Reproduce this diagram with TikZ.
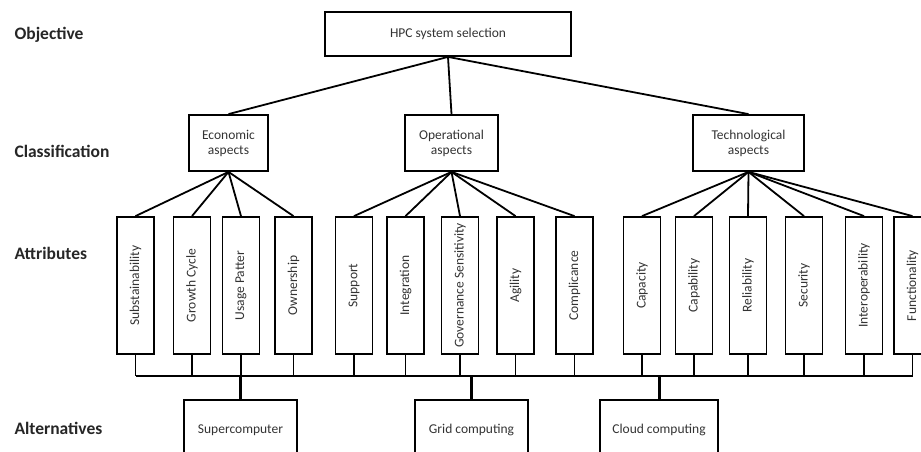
\documentclass[tikz,border=0pt]{standalone}
\usepackage{fontspec}
\setmainfont{Carlito}
\usepackage{graphicx}

\begin{document}
\begin{tikzpicture}[
    x=1pt,y=-1pt,line/.style={line width=1.8pt},
    box/.style={draw, line width=1.8pt, inner sep=0pt, align=center, text=black!80,
      font=\fontsize{13.5}{15}\selectfont},
    attr/.style={box, minimum width=37pt, minimum height=137pt},
    level/.style={anchor=west, text=black!85, font=\fontsize{17.5}{20}\selectfont\bfseries}
    ]
    \clip (0, 0) rectangle (921, 451);
    \node[level] (lobj) at (11, 35) {Objective};
    \node[level] (lcls) at (11, 151) {Classification};
    \node[level] (latt) at (11, 253) {Attributes};
    \node[level] (lalt) at (11, 428) {Alternatives};
    \node[box, minimum width=246pt, minimum height=44pt] (hpc) at (448, 34) {HPC system selection};
    \node[box, minimum width=79pt, minimum height=56pt] (econ) at (228.5, 143) {Economic\\aspects};
    \node[box, minimum width=93pt, minimum height=56pt] (oper) at (451.5, 143) {Operational\\aspects};
    \node[box, minimum width=111pt, minimum height=56pt] (tech) at (748.5, 143) {Technological\\aspects};
    \node[attr] (sust) at (135.5, 285.5) {\rotatebox{90}{Substainability}};
    \node[attr] (grow) at (192, 285.5) {\rotatebox{90}{Growth Cycle}};
    \node[attr] (usage) at (241, 285.5) {\rotatebox{90}{Usage Patter}};
    \node[attr] (own) at (293.5, 285.5) {\rotatebox{90}{Ownership}};
    \node[attr] (supp) at (354, 285.5) {\rotatebox{90}{Support}};
    \node[attr] (integ) at (405.5, 285.5) {\rotatebox{90}{Integration}};
    \node[attr] (gov) at (460, 285.5) {\rotatebox{90}{Governance Sensitivity}};
    \node[attr] (agil) at (515.5, 285.5) {\rotatebox{90}{Agility}};
    \node[attr] (compl) at (574.5, 285.5) {\rotatebox{90}{Complicance}};
    \node[attr] (capa) at (642, 285.5) {\rotatebox{90}{Capacity}};
    \node[attr] (capb) at (694, 285.5) {\rotatebox{90}{Capability}};
    \node[attr] (reli) at (748, 285.5) {\rotatebox{90}{Reliability}};
    \node[attr] (secu) at (804, 285.5) {\rotatebox{90}{Security}};
    \node[attr] (inter) at (864, 285.5) {\rotatebox{90}{Interoperability}};
    \node[attr] (func) at (912.5, 285.5) {\rotatebox{90}{Functionality}};
    \node[box, minimum width=113pt, minimum height=60pt] (supc) at (240.5, 430) {Supercomputer};
    \node[box, minimum width=113pt, minimum height=60pt] (grid) at (471.5, 430) {Grid computing};
    \node[box, minimum width=118pt, minimum height=60pt] (cloud) at (659, 430) {Cloud computing};
    \coordinate (busl) at (135.5, 376);
    \coordinate (busr) at (912.5, 376);
    % objective to classification
    \draw[line] (hpc.south) -- (econ.north);
    \draw[line] (hpc.south) -- (oper.north);
    \draw[line] (hpc.south) -- (tech.north);
    % classification to attributes
    \draw[line] (econ.south) -- (sust.north);
    \draw[line] (econ.south) -- (grow.north);
    \draw[line] (econ.south) -- (usage.north);
    \draw[line] (econ.south) -- (own.north);
    \draw[line] (oper.south) -- (supp.north);
    \draw[line] (oper.south) -- (integ.north);
    \draw[line] (oper.south) -- (gov.north);
    \draw[line] (oper.south) -- (agil.north);
    \draw[line] (oper.south) -- (compl.north);
    \draw[line] (tech.south) -- (capa.north);
    \draw[line] (tech.south) -- (capb.north);
    \draw[line] (tech.south) -- (reli.north);
    \draw[line] (tech.south) -- (secu.north);
    \draw[line] (tech.south) -- (inter.north);
    \draw[line] (tech.south) -- (func.north);
    % attributes to the bus
    \draw[line] (busl) -- (busr);
    \draw[line] (sust.south) -- (sust.south |- busl);
    \draw[line] (grow.south) -- (grow.south |- busl);
    \draw[line] (usage.south) -- (usage.south |- busl);
    \draw[line] (own.south) -- (own.south |- busl);
    \draw[line] (supp.south) -- (supp.south |- busl);
    \draw[line] (integ.south) -- (integ.south |- busl);
    \draw[line] (gov.south) -- (gov.south |- busl);
    \draw[line] (agil.south) -- (agil.south |- busl);
    \draw[line] (compl.south) -- (compl.south |- busl);
    \draw[line] (capa.south) -- (capa.south |- busl);
    \draw[line] (capb.south) -- (capb.south |- busl);
    \draw[line] (reli.south) -- (reli.south |- busl);
    \draw[line] (secu.south) -- (secu.south |- busl);
    \draw[line] (inter.south) -- (inter.south |- busl);
    \draw[line] (func.south) -- (func.south |- busl);
    % bus to alternatives
    \draw[line width=3pt] (supc.north) -- (supc.north |- busl);
    \draw[line width=3pt] (grid.north) -- (grid.north |- busl);
    \draw[line width=3pt] (cloud.north) -- (cloud.north |- busl);
  \end{tikzpicture}
\end{document}
